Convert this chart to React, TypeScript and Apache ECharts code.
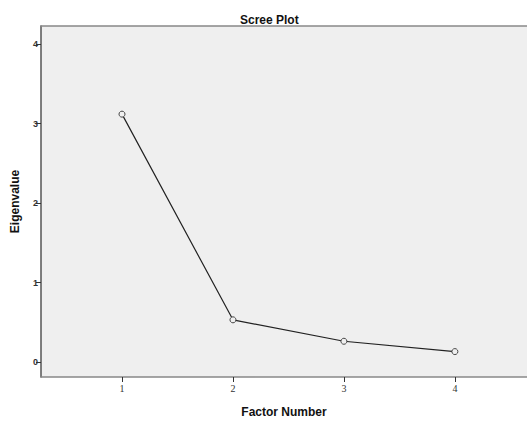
import React, { useEffect, useRef } from "react";
import * as echarts from "echarts";

const factors = [1, 2, 3, 4];
const eigenvalues = [3.12, 0.53, 0.26, 0.13];
const xTicks = [1, 2, 3, 4];
const yTicks = [0, 1, 2, 3, 4];

export default function App() {
  const ref = useRef<HTMLDivElement>(null);
  useEffect(() => {
    if (!ref.current) return;
    const chart = echarts.init(ref.current, null, { renderer: "svg" });
    const font = "Liberation Sans, Arial, sans-serif";
    chart.setOption({
      animation: false,
      backgroundColor: "#ffffff",
      title: {
        text: "Scree Plot",
        left: 235,
        top: 9,
        textStyle: { fontFamily: font, fontSize: 12, fontWeight: "bold", color: "#111" },
      },
      grid: {
        left: 41,
        right: 0,
        top: 26,
        bottom: 44,
        show: true,
        backgroundColor: "#efefef",
        borderWidth: 0,
      },
      xAxis: [
        {
          type: "value",
          min: 0.27,
          max: 4.65,
          name: "Factor Number",
          nameLocation: "middle",
          nameGap: 29,
          nameTextStyle: { fontFamily: font, fontSize: 12, fontWeight: "bold", color: "#111" },
          axisLine: { show: true, onZero: false, lineStyle: { color: "#888", width: 1.5 } },
          axisTick: { show: true, length: 5, lineStyle: { color: "#333" }, customValues: xTicks },
          axisLabel: {
            customValues: xTicks,
            fontFamily: "Liberation Serif, serif",
            fontSize: 10,
            color: "#333",
            margin: 6,
          },
          splitLine: { show: false },
        },
        {
          type: "value",
          position: "top",
          min: 0.27,
          max: 4.65,
          axisLine: { show: true, onZero: false, lineStyle: { color: "#888", width: 1.5 } },
          axisTick: { show: false },
          axisLabel: { show: false },
          splitLine: { show: false },
        },
      ],
      yAxis: {
        type: "value",
        min: -0.19,
        max: 4.23,
        name: "Eigenvalue",
        nameLocation: "middle",
        nameGap: 20,
        nameTextStyle: { fontFamily: font, fontSize: 12, fontWeight: "bold", color: "#111" },
        axisLine: { show: true, onZero: false, lineStyle: { color: "#555", width: 1.5 } },
        axisTick: { show: true, length: 5, lineStyle: { color: "#333" }, customValues: yTicks },
        axisLabel: {
          customValues: yTicks,
          fontFamily: font,
          fontSize: 9,
          fontWeight: "bold",
          color: "#333",
          margin: 3,
        },
        splitLine: { show: false },
      },
      series: [
        {
          type: "line",
          xAxisIndex: 0,
          data: factors.map((f, i) => [f, eigenvalues[i]]),
          symbol: "circle",
          symbolSize: 6,
          lineStyle: { color: "#222", width: 1.2 },
          itemStyle: { color: "#efefef", borderColor: "#444", borderWidth: 1 },
          z: 3,
        },
      ],
    });
    return () => chart.dispose();
  }, []);
  return <div ref={ref} style={{ width: 527, height: 423, position: "absolute", left: 0, top: 0 }} />;
}
